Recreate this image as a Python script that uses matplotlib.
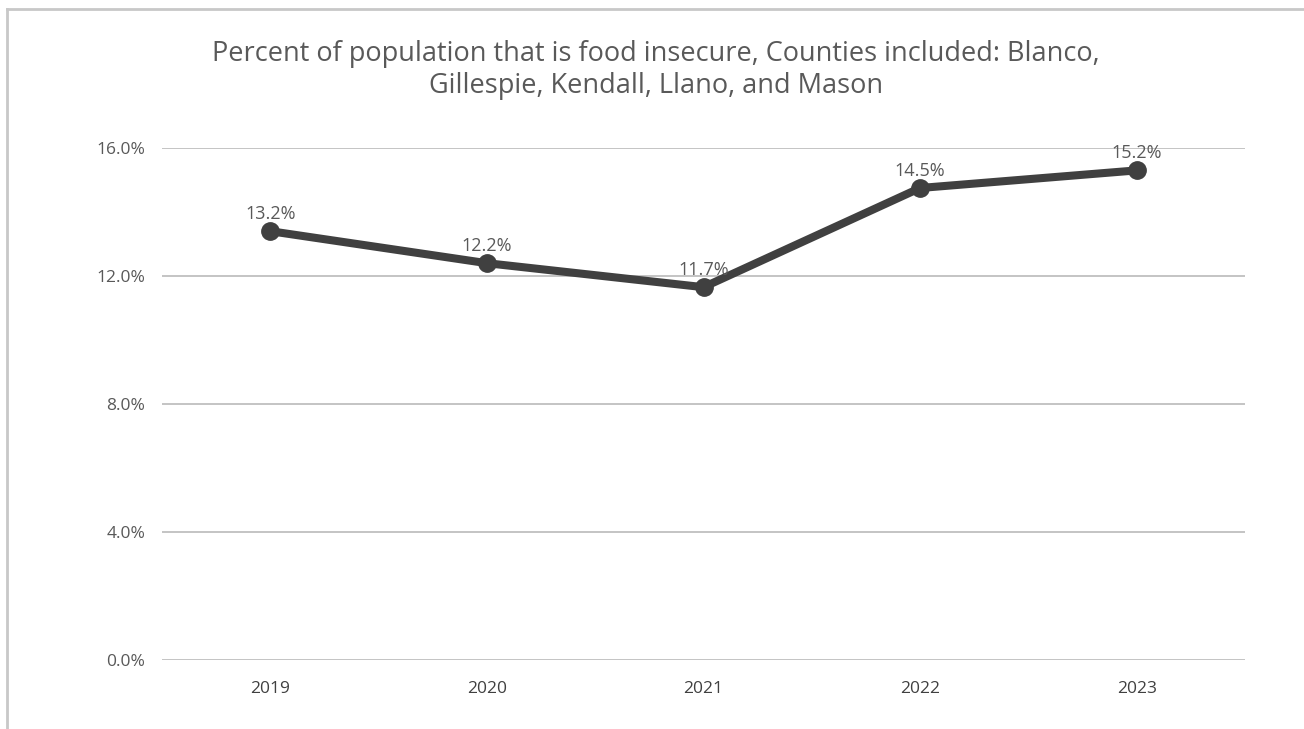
import matplotlib
matplotlib.use("Agg")
import matplotlib.pyplot as plt
from matplotlib.lines import Line2D

## Data
years = ["2019", "2020", "2021", "2022", "2023"]
pct = [13.4, 12.4, 11.65, 14.75, 15.3]  # plotted positions
pct_labels = ["13.2%", "12.2%", "11.7%", "14.5%", "15.2%"]
yticks = [0, 4, 8, 12, 16]

title = ("Percent of population that is food insecure, Counties included: Blanco,\n"
         "Gillespie, Kendall, Llano, and Mason")

txt = "#595959"
plt.rcParams['font.family'] = ['Open Sans', 'DejaVu Sans']

fig = plt.figure(figsize=(13.04, 7.29), dpi=100)
ax = fig.add_axes([0.1242, 0.0947, 0.8306, 0.7023])

x = list(range(len(years)))
ax.plot(x, pct, color="#404040", lw=5.8, marker="o", ms=12.5, solid_capstyle="round", zorder=3)
for i in x:
    ax.annotate(pct_labels[i], (x[i], pct[i]), xytext=(0, 6), textcoords="offset points",
                ha="center", va="bottom", fontsize=13, color=txt)

ax.set_xlim(-0.5, 4.5)
ax.set_ylim(0, 16)
ax.set_xticks(x)
ax.set_xticklabels(years, fontsize=12.5, color="#404040")
ax.set_yticks(yticks)
ax.set_yticklabels(["%.1f%%" % v for v in yticks], fontsize=12.5, color=txt)
ax.tick_params(length=0, pad=12)
ax.tick_params(axis='x', pad=15)
ax.grid(axis='y', color="#BFBFBF", lw=1.3)
ax.set_axisbelow(True)
for s in ax.spines.values():
    s.set_visible(False)

fig.text(0.503, 0.945, title, ha="center", va="top", fontsize=19.5, color=txt, linespacing=1.2)

# outer frame (left and top only)
fig.add_artist(Line2D([0.0055, 0.0055], [0, 0.988], color="#C8C8C8", lw=2, transform=fig.transFigure))
fig.add_artist(Line2D([0.0055, 1.0], [0.988, 0.988], color="#C8C8C8", lw=2, transform=fig.transFigure))

fig.savefig("out.png", dpi=100)
